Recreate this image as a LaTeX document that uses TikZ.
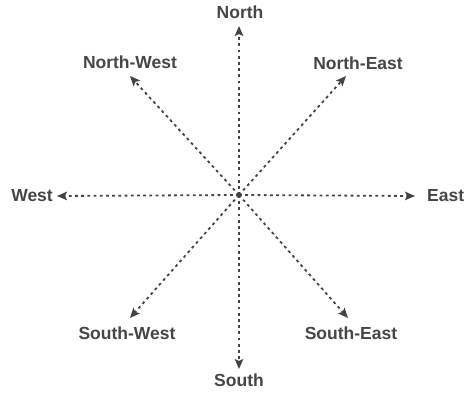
\documentclass[tikz,border=0pt]{standalone}
\usepackage{fontspec}
\setmainfont{Liberation Sans}
\usetikzlibrary{arrows.meta}
\definecolor{txt}{HTML}{464646}
\definecolor{ln}{HTML}{444444}
\tikzset{
  lbl/.style={font=\fontsize{17.5}{20}\selectfont\bfseries, text=txt, inner sep=0pt},
  dirarrow/.style={draw=ln, line width=1.8pt, dash pattern=on 2.8pt off 3.4pt,
    -{Stealth[length=10pt,width=8.5pt,inset=2pt]}},
}
\begin{document}
\begin{tikzpicture}[x=1pt,y=-1pt]
\useasboundingbox[fill=white] (0,0) rectangle (464,396);
\coordinate (c) at (239,195);
% labels
\node[lbl] (N) at (240,12) {North};
\node[lbl] (S) at (239,380) {South};
\node[lbl, anchor=west] (E) at (427,196) {East};
\node[lbl, anchor=east] (W) at (53,196) {West};
\node[lbl] (NW) at (130,62) {North-West};
\node[lbl] (NE) at (358,63) {North-East};
\node[lbl] (SW) at (127,333) {South-West};
\node[lbl] (SE) at (351,333) {South-East};
% arrow tips
\coordinate (tN) at (239,26);
\coordinate (tS) at (239,369);
\coordinate (tE) at (415,196);
\coordinate (tW) at (57,196);
\coordinate (tNW) at (130,76);
\coordinate (tNE) at (346,76);
\coordinate (tSW) at (130,318);
\coordinate (tSE) at (348,318);
% arrows
\foreach \t in {tN,tS,tE,tW,tNW,tNE,tSW,tSE}
  \draw[dirarrow] (c) -- (\t);
\end{tikzpicture}
\end{document}
